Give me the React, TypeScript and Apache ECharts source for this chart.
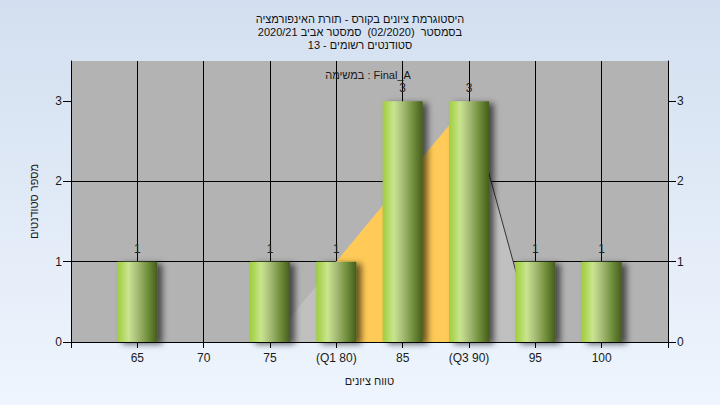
import React, { useEffect, useRef } from "react";
import * as echarts from "echarts";

const titleLines = [
  "היסטוגרמת ציונים בקורס - תורת האינפורמציה",
  "בסמסטר  (02/2020)  סמסטר אביב 2020/21",
  "סטודנטים רשומים - 13",
];
const legendText = "במשימה : Final_A";
const yAxisName = "מספר סטודנטים";
const xAxisName = "טווח ציונים";

const gradeBins = [65, 75, 80, 85, 90, 95, 100];
const studentCounts = [1, 1, 1, 3, 3, 1, 1];
const xTickLabels: Record<number, string> = {
  65: "65",
  70: "70",
  75: "75",
  80: "(Q1 80)",
  85: "85",
  90: "(Q3 90)",
  95: "95",
  100: "100",
};
const distX = [75, 80, 85, 90, 95];
const distY = [0, 1, 2, 3, 0];
const iqrX = [80, 85, 90];
const iqrY = [1, 2, 3];
const tailX = [90, 95];
const tailY = [3, 0];
const yTicks = [0, 1, 2, 3];

const FONT = "'Liberation Sans', Arial, sans-serif";

export default function App() {
  const ref = useRef<HTMLDivElement>(null);
  useEffect(() => {
    if (!ref.current) return;
    const chart = echarts.init(ref.current, undefined, { renderer: "svg" });
    const barGrad = new echarts.graphic.LinearGradient(0, 0, 1, 0, [
      { offset: 0, color: "#9fce3b" },
      { offset: 0.28, color: "#c9e48f" },
      { offset: 0.5, color: "#a6bc76" },
      { offset: 0.75, color: "#72903e" },
      { offset: 1, color: "#465d1b" },
    ]);
    const yAxisCommon = {
      type: "value",
      min: 0,
      max: 3.5,
      interval: 1,
      axisLine: { show: true, lineStyle: { color: "#000", width: 1 } },
      axisTick: {
        show: true,
        inside: false,
        length: 8,
        customValues: yTicks,
        lineStyle: { color: "#000" },
      },
      axisLabel: {
        customValues: yTicks,
        margin: 9,
        color: "#1a1a1a",
        fontSize: 12,
        fontFamily: FONT,
      },
    };
    chart.setOption({
      animation: false,
      backgroundColor: "transparent",
      title: {
        text: titleLines.join("\n"),
        left: "center",
        top: 12,
        padding: 0,
        textStyle: {
          fontSize: 11,
          lineHeight: 13,
          fontWeight: "normal",
          color: "#111",
          fontFamily: FONT,
        },
      },
      graphic: [
        {
          type: "text",
          x: 368,
          y: 75,
          style: {
            text: legendText,
            fill: "#1a1a1a",
            font: `11px ${FONT}`,
            textAlign: "center",
            textVerticalAlign: "middle",
          },
          z: 10,
        },
      ],
      grid: {
        left: 71,
        right: 52,
        top: 61,
        bottom: 63,
        show: true,
        backgroundColor: "#b3b3b3",
        borderWidth: 0,
      },
      xAxis: {
        type: "value",
        min: 60,
        max: 105,
        interval: 5,
        name: xAxisName,
        nameLocation: "middle",
        nameGap: 33,
        nameTextStyle: { color: "#1a1a1a", fontSize: 11, fontFamily: FONT },
        axisLine: { show: true, onZero: false, lineStyle: { color: "#000" } },
        axisTick: { show: true, length: 6, lineStyle: { color: "#000" } },
        axisLabel: {
          margin: 10,
          color: "#1a1a1a",
          fontSize: 12,
          fontFamily: FONT,
          formatter: (v: number) => xTickLabels[v] ?? "",
        },
        splitLine: { show: true, lineStyle: { color: "#000", width: 1 } },
      },
      yAxis: [
        {
          ...yAxisCommon,
          position: "left",
          name: yAxisName,
          nameLocation: "middle",
          nameRotate: 90,
          nameGap: 32,
          nameTextStyle: { color: "#1a1a1a", fontSize: 11, fontFamily: FONT },
          splitLine: {
            show: true,
            showMaxLine: false,
            lineStyle: { color: "#000", width: 1 },
          },
        },
        {
          ...yAxisCommon,
          position: "right",
          splitLine: { show: false },
        },
      ],
      series: [
        {
          type: "line",
          data: distX.map((x, i) => [x, distY[i]]),
          symbol: "none",
          lineStyle: { width: 0 },
          areaStyle: { color: "#c0c0c0", opacity: 1 },
          z: 1,
          silent: true,
        },
        {
          type: "line",
          data: iqrX.map((x, i) => [x, iqrY[i]]),
          symbol: "none",
          lineStyle: { width: 0 },
          areaStyle: { color: "#ffca57", opacity: 1 },
          z: 2,
          silent: true,
        },
        {
          type: "line",
          data: tailX.map((x, i) => [x, tailY[i]]),
          symbol: "none",
          lineStyle: { width: 1, color: "#333" },
          z: 3,
          silent: true,
        },
        {
          type: "bar",
          data: gradeBins.map((x, i) => [x, studentCounts[i]]),
          barWidth: 40,
          z: 5,
          itemStyle: {
            color: barGrad,
            shadowColor: "rgba(0,0,0,0.6)",
            shadowBlur: 6,
            shadowOffsetX: 5,
            shadowOffsetY: 2,
          },
          label: {
            show: true,
            position: "top",
            distance: 7,
            color: "#222",
            fontSize: 12,
            fontFamily: FONT,
          },
        },
      ],
    });
    return () => chart.dispose();
  }, []);
  return (
    <div
      style={{
        position: "absolute",
        left: 0,
        top: 0,
        width: 720,
        height: 405,
        background: "linear-gradient(#d3dff0, #eef5fd)",
      }}
    >
      <div ref={ref} style={{ width: 720, height: 405 }} />
    </div>
  );
}
